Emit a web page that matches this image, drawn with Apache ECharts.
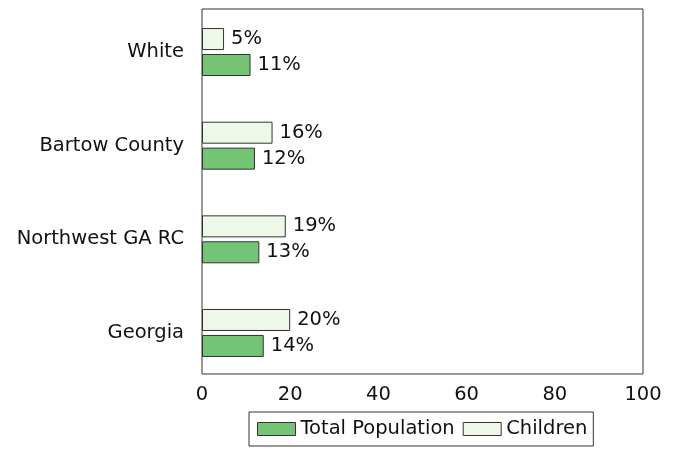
<!DOCTYPE html>
<html>
<head>
<meta charset="utf-8">
<script src="https://cdn.jsdelivr.net/npm/echarts@6/dist/echarts.min.js"></script>
<style>
  html, body { margin: 0; padding: 0; background: #fff; }
  #chart { width: 678px; height: 449px; }
</style>
</head>
<body>
<div id="chart"></div>
<script>
// Share of people in poverty by area (percent)
const categories = ['White', 'Bartow County', 'Northwest GA RC', 'Georgia'];
const totalPopulation = [11, 12, 13, 14];
const children = [5, 16, 19, 20];
const xTicks = [0, 20, 40, 60, 80, 100];

const FONT = 'DejaVu Sans';
const FS = 19.5;
const chart = echarts.init(document.getElementById('chart'), null, { renderer: 'canvas' });

const barLabel = {
  show: true,
  position: 'right',
  distance: 7,
  fontFamily: FONT,
  fontSize: FS,
  color: '#111',
  formatter: p => p.value + '%'
};

chart.setOption({
  animation: false,
  textStyle: { fontFamily: FONT },
  legend: {
    data: ['Total Population', 'Children'],
    left: 249,
    top: 412,
    orient: 'horizontal',
    icon: 'rect',
    itemWidth: 38,
    itemHeight: 13,
    itemGap: 8,
    padding: [7, 6, 7, 8],
    borderColor: '#333',
    borderWidth: 1,
    itemStyle: { borderColor: '#333', borderWidth: 1 },
    textStyle: { fontFamily: FONT, fontSize: FS, color: '#111' }
  },
  grid: [
    // frame and value axis
    { left: 202, right: 35, top: 9, bottom: 75, show: true, borderColor: '#333', borderWidth: 1, backgroundColor: 'transparent' },
    // bars
    { left: 202, right: 35, top: 5.2, bottom: 69.2 }
  ],
  xAxis: [
    {
      gridIndex: 0, type: 'value', min: xTicks[0], max: xTicks[xTicks.length - 1], interval: 20,
      axisLine: { show: false }, axisTick: { show: false }, splitLine: { show: false },
      axisLabel: { fontFamily: FONT, fontSize: FS, color: '#111', margin: 11 }
    },
    {
      gridIndex: 1, type: 'value', min: xTicks[0], max: xTicks[xTicks.length - 1],
      show: false, splitLine: { show: false }
    }
  ],
  yAxis: [
    { gridIndex: 0, type: 'value', show: false, splitLine: { show: false } },
    {
      gridIndex: 1, type: 'category', data: categories, inverse: true,
      axisLine: { show: false }, axisTick: { show: false }, splitLine: { show: false },
      axisLabel: { fontFamily: FONT, fontSize: FS, color: '#111', margin: 18 }
    }
  ],
  series: [
    {
      name: 'Children', type: 'bar', xAxisIndex: 1, yAxisIndex: 1,
      data: children, barWidth: 22, barGap: '18%',
      itemStyle: { color: '#edf8e9', borderColor: '#333', borderWidth: 1 },
      label: barLabel
    },
    {
      name: 'Total Population', type: 'bar', xAxisIndex: 1, yAxisIndex: 1,
      data: totalPopulation, barWidth: 22, barGap: '18%',
      itemStyle: { color: '#74c476', borderColor: '#333', borderWidth: 1 },
      label: barLabel
    }
  ]
});
</script>
</body>
</html>
